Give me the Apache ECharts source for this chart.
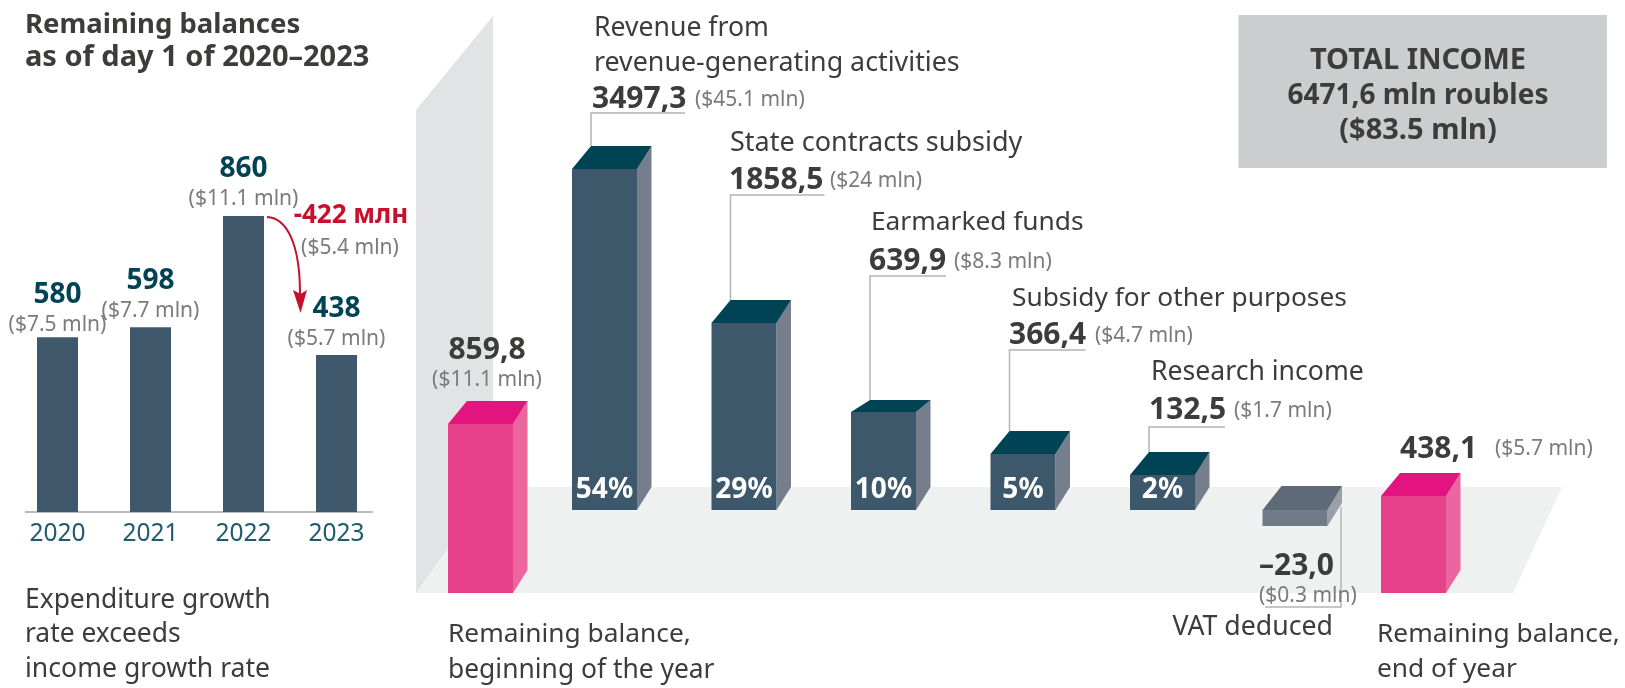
<!DOCTYPE html>
<html>
<head>
<meta charset="utf-8">
<style>
  html, body { margin: 0; padding: 0; background: #fff; }
  #main { width: 1625px; height: 688px; }
</style>
<script src="https://cdn.jsdelivr.net/npm/echarts@6/dist/echarts.min.js"></script>
</head>
<body>
<div id="main"></div>
<script>
// left chart
const years = ['2020', '2021', '2022', '2023'];
const balanceValues = [580, 598, 860, 438];
const balanceUsd = ['($7.5 mln)', '($7.7 mln)', '($11.1 mln)', '($5.7 mln)'];
// bars in the source are not to scale with their printed numbers, these are the heights as drawn
const balanceDrawn = [508, 537, 860, 456];

// right chart
const incomeNames = [
	'Remaining balance,\nbeginning of the year',
	'Revenue from\nrevenue-generating activities',
	'State contracts subsidy',
	'Earmarked funds',
	'Subsidy for other purposes',
	'Research income',
	'VAT deduced',
	'Remaining balance,\nend of year'
];
const incomeValues = [859.8, 3497.3, 1858.5, 639.9, 366.4, 132.5, -23.0, 438.1];
const incomeUsd = ['($11.1 mln)', '($45.1 mln)', '($24 mln)', '($8.3 mln)', '($4.7 mln)', '($1.7 mln)', '($0.3 mln)', '($5.7 mln)'];
const incomeShare = ['', '54%', '29%', '10%', '5%', '2%', '', ''];
// same here: heights as drawn in mln roubles of the tallest bar
const incomeDrawn = [1733, 3497, 1917, 1005, 574, 359, -164, 995];

const FONT = '"Noto Sans", sans-serif';
const DARK = '#3c3c3b';
const GREY = '#7b7b7b';
const TEAL = '#004355';
const LEADER = '#b4b4b4';

const chart = echarts.init(document.getElementById('main'));

// x corrections, the source does not space the outer bars evenly
const nudge = [15.5, 0, 0, 0, 0, 0, -7, -28];
const topDepth = [23, 23, 23, 12, 23, 23, 24, 23];
const leaderY = [0, 113, 195, 276, 350, 427];
const leaderLen = [0, 94, 94, 76, 76, 76];
const colors = {
	dark: { front: '#3e586b', top: '#004355', side: '#757e8d' },
	pink: { front: '#e8418c', top: '#e3137f', side: '#eb659f' },
	grey: { front: '#727987', top: '#5f6a78', side: '#9a9fa9' }
};
const AXIS_MIN = -851;

function renderBar(params, api) {
	const i = api.value(0);
	const v = api.value(1);
	const isBalance = i === 0 || i === 7;
	const base = isBalance ? AXIS_MIN : 0;
	const cx = api.coord([i, 0])[0] + nudge[i];
	const yA = api.coord([i, base])[1];
	const yB = api.coord([i, base + v])[1];
	const top = Math.min(yA, yB);
	const bottom = Math.max(yA, yB);
	const c = isBalance ? colors.pink : (v < 0 ? colors.grey : colors.dark);
	const l = cx - 32.5;
	const r = cx + 32.5;
	const d = topDepth[i];
	const poly = (points, fill) => ({ type: 'polygon', shape: { points: points }, style: { fill: fill } });
	const children = [
		poly([[r, top], [r + 14.5, top - d], [r + 14.5, bottom - 23], [r, bottom]], c.side),
		poly([[l, top], [l + 19, top - d], [r + 14.5, top - d], [r, top]], c.top),
		poly([[l, top], [r, top], [r, bottom], [l, bottom]], c.front)
	];
	if (incomeShare[i]) {
		children.push({
			type: 'text',
			style: { text: incomeShare[i], x: cx, y: 490, align: 'center', verticalAlign: 'middle', fill: '#fff', font: 'bold 28px ' + FONT }
		});
	}
	if (leaderY[i]) {
		children.push({
			type: 'polyline',
			shape: { points: [[l + 19, top - d], [l + 19, leaderY[i]], [l + 19 + leaderLen[i], leaderY[i]]] },
			style: { stroke: LEADER, lineWidth: 1.5, fill: 'none' }
		});
	}
	return { type: 'group', children: children };
}

function txt(text, x, y, size, color, weight, align) {
	return {
		type: 'text',
		z: 50,
		style: {
			text: text, x: x, y: y + 3, fill: color,
			align: align || 'left', verticalAlign: 'middle',
			font: (weight || 'normal') + ' ' + size + 'px ' + FONT
		}
	};
}

const fmt = v => (v < 0 ? '–' : '') + Math.abs(v).toFixed(1).replace('.', ',');
const firstLine = i => incomeNames[i].split('\n');

const backdrop = [
	{ type: 'polygon', z: 0, shape: { points: [[416, 110], [493, 16], [493, 487], [416, 593]] }, style: { fill: '#e1e3e5' } },
	{ type: 'polygon', z: 0, shape: { points: [[493, 487], [1562, 487], [1513, 593], [416, 593]] }, style: { fill: '#eff1f0' } },
	{ type: 'rect', z: 0, shape: { x: 1238.5, y: 15, width: 368.5, height: 153 }, style: { fill: '#cccdcf' } },
	{ type: 'line', z: 0, shape: { x1: 25, y1: 512, x2: 373, y2: 512 }, style: { stroke: '#a3a3a3', lineWidth: 1.5 } }
];

const arrow = [
	{ type: 'bezierCurve', z: 40, shape: { x1: 267, y1: 217, cpx1: 287, cpy1: 218, cpx2: 300, cpy2: 244, x2: 300, y2: 294 }, style: { stroke: '#c8102e', lineWidth: 2, fill: 'none' } },
	{ type: 'polygon', z: 40, shape: { points: [[293, 290], [300.5, 294], [307, 290], [300.5, 313]] }, style: { fill: '#c8102e' } },
	{ type: 'polyline', z: 4, shape: { points: [[1341, 507], [1341, 607], [1265, 607]] }, style: { stroke: LEADER, lineWidth: 1.5, fill: 'none' } }
];

const texts = [
	txt('Remaining balances', 25, 22, 27.5, DARK, 'bold'),
	txt('as of day 1 of 2020–2023', 25, 55, 29, DARK, 'bold'),
	txt('Expenditure growth', 25, 597, 26.4, DARK),
	txt('rate exceeds', 25, 631, 26.4, DARK),
	txt('income growth rate', 25, 666, 26.6, DARK),
	txt('-422 млн', 351, 213, 26, '#c8102e', 'bold', 'center'),
	txt('($5.4 mln)', 350, 245, 21, GREY, 'normal', 'center'),

	txt(fmt(incomeValues[0]), 487, 347, 30, DARK, 'bold', 'center'),
	txt(incomeUsd[0], 487, 377, 21, GREY, 'normal', 'center'),
	txt(firstLine(0)[0], 448, 632, 26.3, DARK),
	txt(firstLine(0)[1], 448, 667, 26.4, DARK),

	txt(firstLine(1)[0], 594, 25, 26.6, DARK),
	txt(firstLine(1)[1], 594, 60, 26.8, DARK),
	txt(fmt(incomeValues[1]), 592, 96, 30, DARK, 'bold'),
	txt(incomeUsd[1], 695, 97, 21, GREY),

	txt(incomeNames[2], 730, 140, 27, DARK),
	txt(fmt(incomeValues[2]), 729, 177, 30, DARK, 'bold'),
	txt(incomeUsd[2], 830, 178, 21, GREY),

	txt(incomeNames[3], 871, 220, 26.3, DARK),
	txt(fmt(incomeValues[3]), 869, 258, 30, DARK, 'bold'),
	txt(incomeUsd[3], 954, 259, 21, GREY),

	txt(incomeNames[4], 1012, 296, 26.3, DARK),
	txt(fmt(incomeValues[4]), 1009, 332, 30, DARK, 'bold'),
	txt(incomeUsd[4], 1095, 333, 21, GREY),

	txt(incomeNames[5], 1151, 369, 26.6, DARK),
	txt(fmt(incomeValues[5]), 1149, 407, 30, DARK, 'bold'),
	txt(incomeUsd[5], 1234, 408, 21, GREY),

	txt(fmt(incomeValues[6]), 1259, 563, 30, DARK, 'bold'),
	txt(incomeUsd[6], 1259, 593, 21, GREY),
	txt(incomeNames[6], 1333, 624, 26.7, DARK, 'normal', 'right'),

	txt(fmt(incomeValues[7]), 1400, 446, 30, DARK, 'bold'),
	txt(incomeUsd[7], 1495, 446, 21, GREY),
	txt(firstLine(7)[0], 1377, 632, 26.3, DARK),
	txt(firstLine(7)[1], 1377, 667, 26.3, DARK),

	txt('TOTAL INCOME', 1418, 58, 29, DARK, 'bold', 'center'),
	txt('6471,6 mln roubles', 1418, 93, 28, DARK, 'bold', 'center'),
	txt('($83.5 mln)', 1418, 128, 29, DARK, 'bold', 'center')
];

const option = {
	animation: false,
	backgroundColor: '#fff',
	textStyle: { fontFamily: FONT },
	graphic: { elements: backdrop.concat(arrow, texts) },
	grid: [
		{ left: 11, width: 372, top: 216, height: 296 },
		{ left: 395.25, width: 1116, top: 169, height: 424 }
	],
	xAxis: [
		{
			type: 'category', gridIndex: 0, data: years,
			axisLine: { show: false }, axisTick: { show: false },
			axisLabel: { color: '#1f5a6e', fontSize: 24.5, margin: 10, fontFamily: FONT }
		},
		{ type: 'category', gridIndex: 1, data: incomeNames, show: false }
	],
	yAxis: [
		{ type: 'value', gridIndex: 0, min: 0, max: 860, show: false },
		{ type: 'value', gridIndex: 1, min: AXIS_MIN, max: 3497, show: false }
	],
	series: [
		{
			type: 'bar',
			xAxisIndex: 0, yAxisIndex: 0,
			barWidth: 41,
			itemStyle: { color: '#3f586b' },
			z: 10,
			data: balanceDrawn.map((v, i) => ({
				value: v,
				label: {
					show: true,
					position: 'top',
					distance: i === 0 ? -2.5 : 1.5,
					formatter: '{v|' + balanceValues[i] + '}\n{s|' + balanceUsd[i] + '}',
					rich: {
						v: { fontSize: 28, fontWeight: 'bold', color: TEAL, lineHeight: 30, align: 'center', fontFamily: FONT },
						s: { fontSize: 21, color: GREY, lineHeight: 30, align: 'center', fontFamily: FONT }
					}
				}
			}))
		},
		{
			type: 'custom',
			xAxisIndex: 1, yAxisIndex: 1,
			z: 3,
			clip: false,
			encode: { x: 0, y: 1 },
			renderItem: renderBar,
			data: incomeDrawn.map((v, i) => [i, v])
		}
	]
};

chart.setOption(option);
</script>
</body>
</html>
